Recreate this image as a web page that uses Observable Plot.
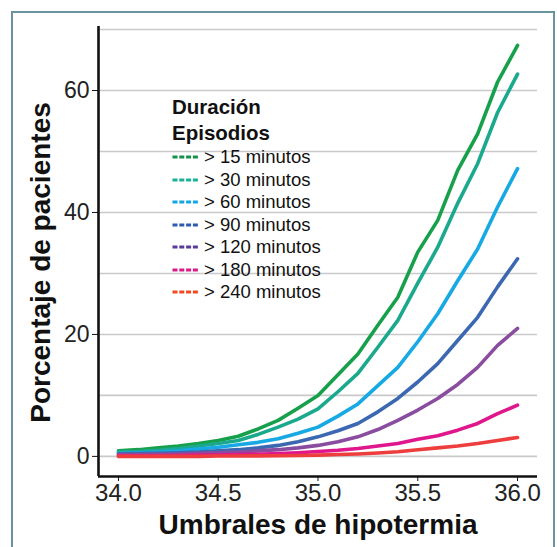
<!DOCTYPE html>
<html>
<head>
<meta charset="utf-8">
<script src="https://cdn.jsdelivr.net/npm/d3@7"></script>
<script src="https://cdn.jsdelivr.net/npm/@observablehq/plot@0.6"></script>
<style>
  html, body { margin: 0; padding: 0; background: #fff; }
  #wrap { position: relative; width: 557px; height: 547px; overflow: hidden; font-family: "Liberation Sans", Arial, Helvetica, sans-serif; }
  #chart { position: absolute; left: 0; top: 0; }
  #frame { position: absolute; left: 11px; top: 11px; width: 544px; height: 560px; border: 2px solid #6a93a0; box-sizing: border-box; pointer-events: none; z-index: 10; }
  #legend { position: absolute; left: 172px; top: 94px; color: #111; z-index: 5; }
  #legend .t { font-weight: bold; font-size: 20.5px; line-height: 26px; }
  #legend .row { display: flex; align-items: center; height: 22.5px; font-size: 18.5px; }
  #legend svg { margin-right: 6px; }
</style>
</head>
<body>
<div id="wrap"><div id="chart"></div><div id="legend"></div><div id="frame"></div></div>
<script>
// Data
const umbrales = [34.0, 34.1, 34.2, 34.3, 34.4, 34.5, 34.6, 34.7, 34.8, 34.9, 35.0, 35.1, 35.2, 35.3, 35.4, 35.5, 35.6, 35.7, 35.8, 35.9, 36.0];
const seriesNames = ["> 15 minutos", "> 30 minutos", "> 60 minutos", "> 90 minutos", "> 120 minutos", "> 180 minutos", "> 240 minutos"];
const p15  = [0.9, 1.1, 1.4, 1.7, 2.1, 2.6, 3.3, 4.5, 5.9, 7.9, 10.0, 13.4, 16.8, 21.5, 26.1, 33.5, 38.7, 46.9, 52.9, 61.4, 67.4];
const p30  = [0.7, 0.8, 1.0, 1.3, 1.7, 2.1, 2.6, 3.6, 4.8, 6.1, 7.8, 10.6, 13.6, 17.9, 22.3, 28.4, 34.3, 41.5, 48.0, 56.4, 62.7];
const p60  = [0.5, 0.6, 0.7, 0.9, 1.2, 1.5, 1.9, 2.3, 2.9, 3.8, 4.8, 6.6, 8.6, 11.6, 14.6, 18.8, 23.4, 28.8, 34.0, 40.9, 47.2];
const p90  = [0.4, 0.45, 0.5, 0.6, 0.7, 0.9, 1.1, 1.4, 1.8, 2.4, 3.2, 4.2, 5.4, 7.3, 9.5, 12.2, 15.2, 19.0, 22.8, 27.8, 32.4];
const p120 = [0.3, 0.3, 0.35, 0.4, 0.5, 0.6, 0.7, 0.9, 1.1, 1.4, 1.8, 2.4, 3.2, 4.4, 5.9, 7.6, 9.5, 11.8, 14.6, 18.2, 21.0];
const p180 = [0.1, 0.1, 0.1, 0.15, 0.2, 0.2, 0.3, 0.35, 0.45, 0.6, 0.8, 1.0, 1.3, 1.7, 2.1, 2.8, 3.4, 4.3, 5.4, 7.0, 8.4];
const p240 = [0, 0, 0, 0, 0, 0.05, 0.05, 0.08, 0.1, 0.15, 0.2, 0.3, 0.4, 0.55, 0.75, 1.1, 1.4, 1.7, 2.1, 2.6, 3.1];
const xTicks = [34.0, 34.5, 35.0, 35.5, 36.0];
const yTicks = [0, 20, 40, 60];
const yGrid = [0, 10, 20, 30, 40, 50, 60, 70];
const xTitle = "Umbrales de hipotermia";
const yTitle = "Porcentaje de pacientes";
const legendTitle = ["Duración", "Episodios"];

// Styles
const lineColors = ["#17a04b", "#1aa98c", "#16a9e3", "#3b68b1", "#8a4c9f", "#e0168c", "#ee3d3d"];
const swatchColors = ["#14914a", "#1ab196", "#13a6e6", "#2d5bb0", "#5a3a9a", "#d91a8c", "#f04a23"];
const xDomain = [33.9, 36.1];
const yDomain = [-3.3, 70.5];

const allSeries = [p15, p30, p60, p90, p120, p180, p240];
const data = [];
allSeries.forEach((vals, i) => vals.forEach((v, j) => data.push({x: umbrales[j], y: v, s: seriesNames[i]})));

const font = "'Liberation Sans', Arial, Helvetica, sans-serif";

const chart = Plot.plot({
  width: 557,
  height: 547,
  marginLeft: 98,
  marginRight: 20,
  marginTop: 26,
  marginBottom: 71,
  style: {fontFamily: font, background: "transparent", overflow: "visible"},
  x: {domain: xDomain},
  y: {domain: yDomain},
  color: {domain: seriesNames, range: lineColors},
  marks: [
    Plot.ruleY(yGrid, {stroke: "#c9c9cb", strokeWidth: 1.6}),
    Plot.line(data, {x: "x", y: "y", z: "s", stroke: "s", strokeWidth: 3.6, strokeLinejoin: "round", strokeLinecap: "round"}),
    Plot.ruleX([xDomain[0]], {stroke: "#111", strokeWidth: 2.6}),
    Plot.ruleY([yDomain[0]], {stroke: "#111", strokeWidth: 2.6}),
    Plot.axisX({ticks: xTicks, tickFormat: d3.format(".1f"), tickSize: 5, tickPadding: 2, fontSize: 24, color: "#222", label: null, stroke: "#111"}),
    Plot.axisY({ticks: yTicks, tickSize: 6, tickPadding: 3, fontSize: 23, color: "#222", label: null, stroke: "#111"}),
    Plot.text([xTitle], {frameAnchor: "bottom", dy: 49, fontSize: 28, fontWeight: "bold", fill: "#111", lineAnchor: "middle", textAnchor: "middle"}),
    Plot.text([yTitle], {frameAnchor: "left", dx: -57, dy: 11, rotate: -90, fontSize: 28, fontWeight: "bold", fill: "#111", lineAnchor: "middle", textAnchor: "middle"})
  ]
});
document.getElementById("chart").appendChild(chart);

// Legend
const lg = document.getElementById("legend");
legendTitle.forEach(t => {
  const d = document.createElement("div");
  d.className = "t"; d.textContent = t; lg.appendChild(d);
});
seriesNames.forEach((name, i) => {
  const row = document.createElement("div");
  row.className = "row";
  row.innerHTML = `<svg width="26" height="6"><line x1="0.5" y1="3" x2="26" y2="3" stroke="${swatchColors[i]}" stroke-width="3" stroke-dasharray="5,1.8"/></svg><span>${name}</span>`;
  lg.appendChild(row);
});
</script>
</body>
</html>
